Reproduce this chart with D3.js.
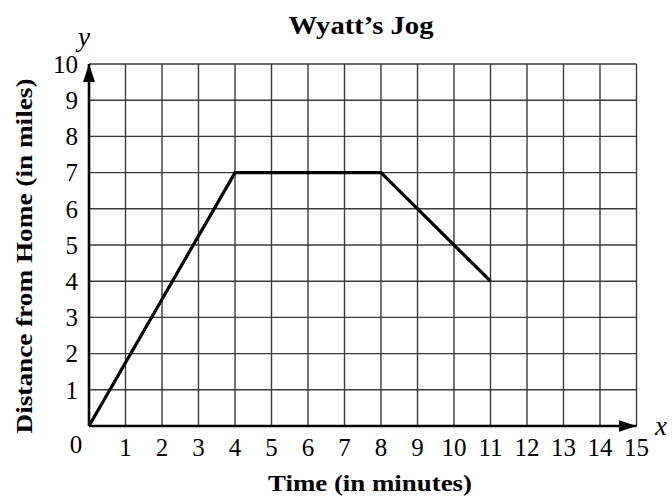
<!DOCTYPE html>
<html>
<head>
<meta charset="utf-8">
<script src="https://cdn.jsdelivr.net/npm/d3@7"></script>
<style>
  html, body { margin: 0; padding: 0; background: #fff; }
  svg text { font-family: "Liberation Serif", "Times New Roman", serif; fill: #000; }
</style>
</head>
<body>
<svg width="672" height="497"></svg>
<script>
// data
var times = [0, 4, 8, 11];        // minutes
var distances = [0, 7, 7, 4];     // miles
var xTicks = [1, 2, 3, 4, 5, 6, 7, 8, 9, 10, 11, 12, 13, 14, 15];
var yTicks = [1, 2, 3, 4, 5, 6, 7, 8, 9, 10];
var title = "Wyatt\u2019s Jog";
var xLabel = "Time (in minutes)";
var yLabel = "Distance from Home (in miles)";

var svg = d3.select("svg");

var x = d3.scaleLinear().domain([0, 15]).range([89, 636.5]);
var y = d3.scaleLinear().domain([0, 10]).range([426, 64]);

var data = times.map((t, i) => ({ t: t, d: distances[i] }));

// grid
var grid = svg.append("g")
    .attr("stroke", "#3a3a3a")
    .attr("stroke-width", 1.4);

grid.selectAll(".vx")
    .data(xTicks)
    .enter().append("line")
    .attr("x1", d => x(d)).attr("x2", d => x(d))
    .attr("y1", y(0)).attr("y2", y(10));

grid.selectAll(".hy")
    .data(yTicks)
    .enter().append("line")
    .attr("x1", x(0)).attr("x2", x(15))
    .attr("y1", d => y(d)).attr("y2", d => y(d));

// arrow heads
var defs = svg.append("defs");
defs.append("marker")
    .attr("id", "arrow")
    .attr("viewBox", "0 0 18 12")
    .attr("refX", 18).attr("refY", 6)
    .attr("markerWidth", 18).attr("markerHeight", 12)
    .attr("markerUnits", "userSpaceOnUse")
    .attr("orient", "auto")
    .append("path")
    .attr("d", "M0,0 L18,6 L0,12 Z")
    .attr("fill", "#000");

// axes
svg.append("line")
    .attr("x1", x(0)).attr("y1", y(0))
    .attr("x2", x(15)).attr("y2", y(0))
    .attr("stroke", "#000").attr("stroke-width", 2.6)
    .attr("marker-end", "url(#arrow)");

svg.append("line")
    .attr("x1", x(0)).attr("y1", y(0))
    .attr("x2", x(0)).attr("y2", y(10))
    .attr("stroke", "#000").attr("stroke-width", 2.6)
    .attr("marker-end", "url(#arrow)");

// the jog
var line = d3.line()
    .x(d => x(d.t))
    .y(d => y(d.d));

svg.append("path")
    .datum(data)
    .attr("fill", "none")
    .attr("stroke", "#000")
    .attr("stroke-width", 3.2)
    .attr("stroke-linejoin", "miter")
    .attr("d", line);

// tick labels
svg.append("g").selectAll("text")
    .data(xTicks)
    .enter().append("text")
    .attr("x", d => x(d))
    .attr("y", 456)
    .attr("text-anchor", "middle")
    .attr("font-size", 25)
    .text(d => d);

svg.append("g").selectAll("text")
    .data(yTicks)
    .enter().append("text")
    .attr("x", 78)
    .attr("y", d => y(d))
    .attr("dy", "0.35em")
    .attr("text-anchor", "end")
    .attr("font-size", 25)
    .text(d => d);

svg.append("text")
    .attr("x", 76).attr("y", 453)
    .attr("text-anchor", "middle")
    .attr("font-size", 25)
    .text("0");

// axis letters
svg.append("text")
    .attr("x", 655).attr("y", 435)
    .attr("font-size", 27)
    .attr("font-style", "italic")
    .text("x");

svg.append("text")
    .attr("x", 78).attr("y", 46)
    .attr("font-size", 27)
    .attr("font-style", "italic")
    .text("y");

// titles
svg.append("text")
    .attr("x", 361).attr("y", 34)
    .attr("text-anchor", "middle")
    .attr("font-size", 26)
    .attr("font-weight", "bold")
    .attr("textLength", 145)
    .attr("lengthAdjust", "spacingAndGlyphs")
    .text(title);

svg.append("text")
    .attr("x", 370).attr("y", 491)
    .attr("text-anchor", "middle")
    .attr("font-size", 24)
    .attr("font-weight", "bold")
    .attr("textLength", 204)
    .attr("lengthAdjust", "spacingAndGlyphs")
    .text(xLabel);

svg.append("text")
    .attr("transform", "translate(32, 256) rotate(-90)")
    .attr("text-anchor", "middle")
    .attr("font-size", 24)
    .attr("font-weight", "bold")
    .attr("textLength", 355)
    .attr("lengthAdjust", "spacingAndGlyphs")
    .text(yLabel);
</script>
</body>
</html>
